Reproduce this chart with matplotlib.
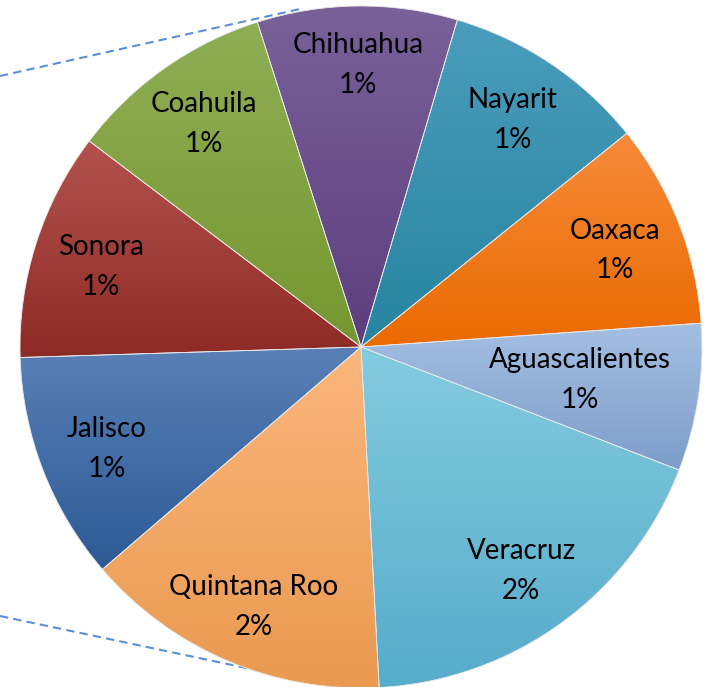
import numpy as np
import matplotlib.pyplot as plt
from matplotlib.colors import LinearSegmentedColormap

# slice data (share of total, %)
states = ["Nayarit", "Chihuahua", "Coahuila", "Sonora", "Jalisco",
          "Quintana Roo", "Veracruz", "Aguascalientes", "Oaxaca"]
values = [1.01, 0.99, 1.02, 1.13, 1.13, 1.52, 1.91, 0.73, 1.01]
pct_labels = ["1%", "1%", "1%", "1%", "1%", "2%", "2%", "1%", "1%"]

# gradient colours (top, bottom) per slice
top_colors = ["#4a9dbc", "#7a619a", "#8fae55", "#b3524d", "#5a80b6",
              "#fbb67c", "#84cbdf", "#a4bfe2", "#f78b3b"]
bot_colors = ["#2784a0", "#5c3e7e", "#75972f", "#8e2a26", "#2c5a96",
              "#ea9a50", "#56accb", "#7d9dca", "#ea6a00"]

W, H = 708, 687
fig = plt.figure(figsize=(W / 100, H / 100), dpi=100)
ax = fig.add_axes([0, 0, 1, 1])

cx, cy, R = 361, 340, 341

# connector lines to the (hidden) main pie
ax.plot([0, 300], [H - 76, H - 9], ls=(0, (4, 2.5)), color="#5b8fd8", lw=1.5, zorder=0)
ax.plot([0, 360], [H - 616, H - 692], ls=(0, (4, 2.5)), color="#5b8fd8", lw=1.5, zorder=0)

labels = [f"{s}\n{p}" for s, p in zip(states, pct_labels)]
wedges, texts = ax.pie(values, labels=labels, startangle=38.8,
                       center=(cx, cy), radius=R, labeldistance=0.8,
                       frame=True,
                       wedgeprops=dict(edgecolor="#e8e8e8", linewidth=0.6),
                       textprops=dict(fontsize=20, family="Lato", ha="center",
                                      va="center", linespacing=1.65))

# gradient fill per wedge (lighter at top, darker at bottom)
grad = np.linspace(0, 1, 256).reshape(-1, 1)
for w, c1, c2 in zip(wedges, top_colors, bot_colors):
    w.set_facecolor("none")
    bb = w.get_path().get_extents(w.get_patch_transform())
    cmap = LinearSegmentedColormap.from_list("g", [c2, c1])
    im = ax.imshow(grad, cmap=cmap, aspect="auto", origin="lower",
                   extent=[bb.x0, bb.x1, bb.y0, bb.y1], zorder=1,
                   interpolation="bilinear")
    im.set_clip_path(w)
    w.set_zorder(2)

# small vertical nudges of the labels, as placed in the original
nudge = [0, 9, 0, -3, -3, -9, -3, 0, -3]
for t, dy in zip(texts, nudge):
    t.set_zorder(3)
    x, y = t.get_position()
    t.set_position((x, y + dy))

# Aguascalientes label sits further inside
texts[7].set_position((cx + 219, cy - 33))

ax.set_xlim(0, W)
ax.set_ylim(0, H)
ax.set_aspect("equal")
ax.axis("off")
fig.savefig("out.png", dpi=100)
